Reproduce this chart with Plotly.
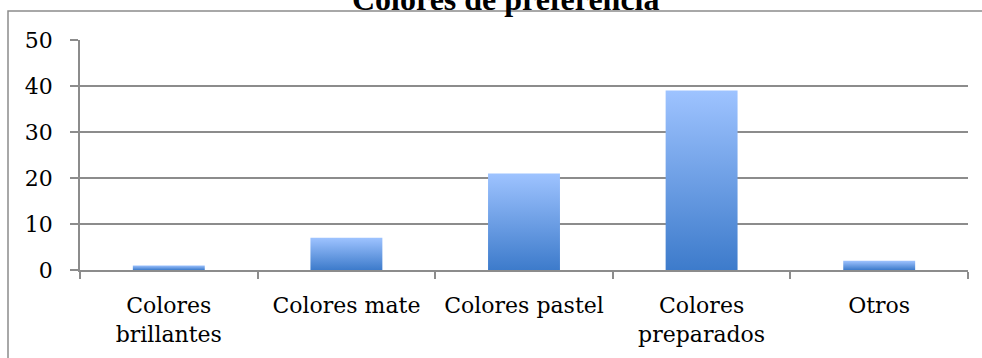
import plotly.graph_objects as go

# Encuesta: colores de preferencia
categorias = ["Colores<br>brillantes", "Colores mate", "Colores pastel", "Colores<br>preparados", "Otros"]
valores = [1, 7, 21, 39, 2]
y_ticks = [0, 10, 20, 30, 40, 50]
titulo = "Colores de preferencia"

GRIS = "#8c8c8c"
FUENTE = "DejaVu Serif"
ANCHO = 0.405  # fraction of each category slot covered by a bar

fig = go.Figure()

for i, v in enumerate(valores):
    x0, x1 = i - ANCHO / 2, i + ANCHO / 2
    fig.add_trace(go.Scatter(
        x=[x0, x1, x1, x0, x0],
        y=[0, 0, v, v, 0],
        mode="lines",
        fill="toself",
        line=dict(width=0),
        fillgradient=dict(
            type="vertical",
            colorscale=[[0, "#3d7bcb"], [1, "#9ec3ff"]],
        ),
        hoverinfo="skip",
        showlegend=False,
    ))

# Margins in pixels, used to place the outer frame and title in paper units
W, H = 982, 358
ML, MR, MT, MB = 80, 14, 40, 88
pw, ph = W - ML - MR, H - MT - MB

def px_x(px):
    return (px - ML) / pw

def px_y(py):
    return (H - MB - py) / ph

# Outer chart frame (right and bottom edges run past the page)
fig.add_shape(
    type="rect", xref="paper", yref="paper",
    x0=px_x(8), x1=px_x(1000), y0=px_y(420), y1=px_y(11),
    line=dict(color=GRIS, width=1.5), fillcolor="rgba(0,0,0,0)", layer="below",
)

fig.add_annotation(
    text=f"<b>{titulo}</b>",
    xref="paper", yref="paper",
    x=px_x(505), y=px_y(19), xanchor="center", yanchor="bottom",
    showarrow=False,
    font=dict(family="Liberation Serif", size=32, color="black"),
)

fig.update_layout(
    width=W, height=H,
    margin=dict(l=ML, r=MR, t=MT, b=MB),
    paper_bgcolor="white", plot_bgcolor="white",
    font=dict(family=FUENTE, size=22, color="black"),
    xaxis=dict(
        range=[-0.5, 4.5],
        tickmode="array",
        tickvals=list(range(len(categorias))),
        ticktext=categorias,
        ticks="",
        showgrid=False, zeroline=False,
        showline=True, linecolor=GRIS, linewidth=1.5,
        minor=dict(ticks="outside", tick0=0.5, dtick=1, ticklen=7,
                   tickcolor=GRIS, tickwidth=1.5, showgrid=False),
        ticklabelstandoff=15,
        fixedrange=True,
    ),
    yaxis=dict(
        range=[0, 50],
        tickmode="array",
        tickvals=y_ticks,
        ticks="outside", ticklen=8, tickcolor=GRIS, tickwidth=1.5,
        showgrid=True, gridcolor=GRIS, gridwidth=1.5,
        zeroline=False,
        showline=True, linecolor=GRIS, linewidth=1.5,
        ticklabelstandoff=13,
        fixedrange=True,
    ),
)

fig.write_html("out.html")
